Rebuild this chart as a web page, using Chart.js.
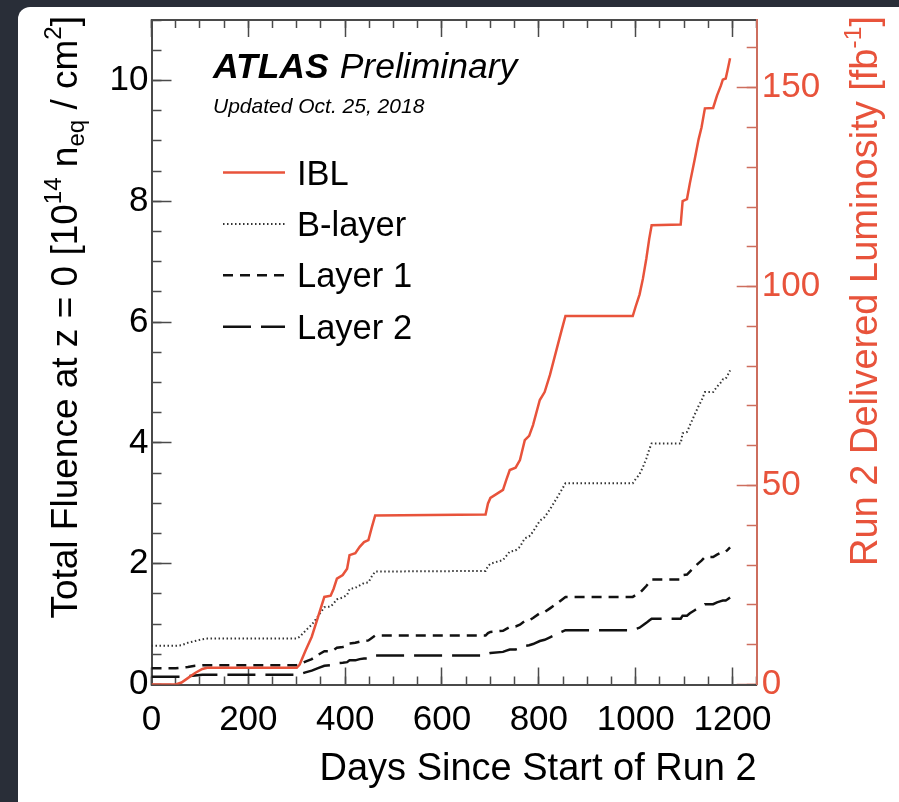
<!DOCTYPE html>
<html>
<head>
<meta charset="utf-8">
<script src="https://cdn.jsdelivr.net/npm/chart.js@4.4.1/dist/chart.umd.min.js"></script>
<style>
    html, body { margin: 0; padding: 0; background: #292e38; }
    #wrap { position: relative; width: 899px; height: 802px; overflow: hidden; }
    #panel { position: absolute; left: 18px; top: 7px; width: 900px; height: 812px; background: #fff; border-radius: 12px; }
    #chart { position: absolute; left: 0; top: 0; }
</style>
</head>
<body>
<div id="wrap">
    <div id="panel"></div>
    <canvas id="chart" width="899" height="802"></canvas>
</div>
<script>
// days since start of Run 2 (shared by all curves)
const days = [0, 50, 62, 75, 90, 105, 115,
    300, 306, 318, 331, 344, 357, 370, 376, 383, 395, 404, 409, 421, 430, 439, 448, 455, 462,
    690, 695, 700, 726, 733, 740, 752, 761, 771, 780, 788, 802, 812, 823, 839, 847, 855,
    994, 1000, 1008, 1015, 1022, 1028, 1033,
    1093, 1097, 1106, 1112, 1122, 1130, 1136, 1143, 1160, 1168, 1176, 1180, 1186, 1190, 1195];

// IBL curve = delivered luminosity, fb^-1 (right axis)
const iblLumi = [0, 0, 0.5, 1.6, 2.9, 3.9, 4.2,
    4.2, 5.0, 8.5, 12.0, 17.0, 22.0, 22.3, 24.0, 26.6, 27.5, 29.1, 32.5, 33.0, 34.6, 35.8, 36.3, 39.5, 42.5,
    42.7, 45.5, 46.9, 48.9, 51.5, 53.9, 54.5, 56.4, 61.4, 62.5, 65.2, 71.5, 73.5, 77.8, 85.3, 89.0, 92.6,
    92.6, 95, 98, 102, 107, 112, 115.4,
    115.6, 121.5, 122, 126, 132, 137, 140, 144.8, 144.9, 148, 150.5, 152, 152.3, 154.5, 157.4];

// fluence, 10^14 neq/cm2 (left axis)
const bLayer = [0.64, 0.64, 0.65, 0.69, 0.72, 0.75, 0.76,
    0.76, 0.79, 0.89, 0.99, 1.13, 1.28, 1.29, 1.34, 1.41, 1.44, 1.48, 1.58, 1.60, 1.64, 1.68, 1.69, 1.79, 1.87,
    1.88, 1.96, 2.00, 2.06, 2.13, 2.20, 2.22, 2.28, 2.42, 2.45, 2.53, 2.71, 2.77, 2.90, 3.11, 3.22, 3.33,
    3.33, 3.40, 3.48, 3.60, 3.74, 3.89, 3.99,
    3.99, 4.16, 4.18, 4.29, 4.47, 4.61, 4.70, 4.84, 4.84, 4.93, 5.00, 5.05, 5.06, 5.12, 5.20];

const layer1 = [0.27, 0.27, 0.28, 0.29, 0.31, 0.32, 0.32,
    0.32, 0.33, 0.38, 0.42, 0.49, 0.55, 0.55, 0.57, 0.61, 0.62, 0.64, 0.68, 0.69, 0.71, 0.72, 0.73, 0.77, 0.81,
    0.81, 0.85, 0.87, 0.89, 0.92, 0.95, 0.96, 0.99, 1.05, 1.06, 1.10, 1.18, 1.20, 1.26, 1.35, 1.40, 1.45,
    1.45, 1.48, 1.51, 1.57, 1.63, 1.69, 1.74,
    1.74, 1.81, 1.82, 1.87, 1.95, 2.01, 2.05, 2.11, 2.11, 2.15, 2.18, 2.20, 2.20, 2.23, 2.27];

const layer2 = [0.13, 0.13, 0.13, 0.14, 0.15, 0.16, 0.16,
    0.16, 0.17, 0.20, 0.23, 0.27, 0.31, 0.32, 0.33, 0.35, 0.36, 0.37, 0.40, 0.40, 0.42, 0.43, 0.43, 0.46, 0.48,
    0.48, 0.51, 0.52, 0.54, 0.56, 0.58, 0.58, 0.60, 0.64, 0.65, 0.67, 0.72, 0.74, 0.78, 0.84, 0.87, 0.90,
    0.90, 0.92, 0.94, 0.98, 1.02, 1.06, 1.09,
    1.09, 1.14, 1.14, 1.18, 1.23, 1.27, 1.29, 1.33, 1.33, 1.36, 1.38, 1.39, 1.39, 1.41, 1.44];

const seriesNames = ['IBL', 'B-layer', 'Layer 1', 'Layer 2'];

const FONT = '"Liberation Sans", Arial, Helvetica, sans-serif';
const RED = '#e8533b';
const RED_AXIS = '#cd6e5e';
const FRAME = '#4a4a4a';

function pts(vals) {
    return days.map((d, i) => ({ x: d, y: vals[i] }));
}

// texte avec exposants / indices
function runWidth(ctx, runs, size) {
    let w = 0;
    runs.forEach(r => {
        ctx.font = (r.s ? size * 0.65 : size) + 'px ' + FONT;
        w += ctx.measureText(r.t).width;
    });
    return w;
}
function drawRuns(ctx, runs, size) {
    let x = 0;
    runs.forEach(r => {
        const s = r.s ? size * 0.65 : size;
        ctx.font = s + 'px ' + FONT;
        const dy = r.s === 'sup' ? -0.42 * size : (r.s === 'sub' ? 0.2 * size : 0);
        ctx.fillText(r.t, x, dy);
        x += ctx.measureText(r.t).width;
    });
}
function drawVerticalTitle(ctx, runs, size, baseX, topY, color) {
    ctx.save();
    ctx.fillStyle = color;
    ctx.textAlign = 'left';
    ctx.textBaseline = 'alphabetic';
    const w = runWidth(ctx, runs, size);
    ctx.translate(baseX, topY + w);
    ctx.rotate(-Math.PI / 2);
    drawRuns(ctx, runs, size);
    ctx.restore();
}

const decorations = {
    id: 'decorations',
    afterDraw(chart) {
        const ctx = chart.ctx;
        ctx.save();
        ctx.fillStyle = '#000';
        ctx.textAlign = 'left';
        ctx.textBaseline = 'alphabetic';

        // ATLAS Preliminary
        ctx.font = 'italic bold 35.5px ' + FONT;
        ctx.fillText('ATLAS', 213, 78);
        const w = ctx.measureText('ATLAS').width;
        ctx.font = 'italic 35.5px ' + FONT;
        ctx.fillText('Preliminary', 213 + w + 11, 78);
        ctx.font = 'italic 21px ' + FONT;
        ctx.fillText('Updated Oct. 25, 2018', 213, 113);

        // legende
        chart.data.datasets.forEach((ds, i) => {
            const y = 172.5 + i * 51.4;
            ctx.save();
            ctx.strokeStyle = ds.borderColor;
            ctx.lineWidth = ds.borderWidth;
            ctx.setLineDash(ds.borderDash || []);
            ctx.beginPath();
            ctx.moveTo(223, y);
            ctx.lineTo(285, y);
            ctx.stroke();
            ctx.restore();
            ctx.font = '34.5px ' + FONT;
            ctx.fillStyle = '#000';
            ctx.fillText(ds.label, 297, y + 12);
        });
        ctx.restore();

        // titres des axes verticaux
        drawVerticalTitle(ctx, [
            { t: 'Total Fluence at z = 0 [10' }, { t: '14', s: 'sup' }, { t: ' n' }, { t: 'eq', s: 'sub' },
            { t: ' / cm' }, { t: '2', s: 'sup' }, { t: ']' }
        ], 37, 77, 16, '#000');
        drawVerticalTitle(ctx, [
            { t: 'Run 2 Delivered Luminosity [fb' }, { t: '-1', s: 'sup' }, { t: ']' }
        ], 38, 877, 16, RED);
    }
};

const tickFont = { family: FONT, size: 35 };
const plainNumber = v => String(v);

new Chart(document.getElementById('chart'), {
    type: 'line',
    data: {
        datasets: [
            { label: seriesNames[0], data: pts(iblLumi), yAxisID: 'y2', borderColor: RED, borderWidth: 2.5 },
            { label: seriesNames[1], data: pts(bLayer), yAxisID: 'y', borderColor: '#333', borderWidth: 2, borderDash: [1.5, 2.5] },
            { label: seriesNames[2], data: pts(layer1), yAxisID: 'y', borderColor: '#111', borderWidth: 2.5, borderDash: [10, 7] },
            { label: seriesNames[3], data: pts(layer2), yAxisID: 'y', borderColor: '#111', borderWidth: 2.5, borderDash: [28, 10] }
        ]
    },
    options: {
        responsive: false,
        animation: false,
        events: [],
        elements: { point: { radius: 0 }, line: { tension: 0, borderCapStyle: 'butt' } },
        layout: { padding: { top: 20, left: 0, right: 0, bottom: 0 } },
        plugins: { legend: { display: false }, tooltip: { enabled: false } },
        scales: {
            x: {
                type: 'linear', position: 'bottom', weight: 1, min: 0, max: 1250,
                ticks: { stepSize: 200, includeBounds: false, autoSkip: false, maxRotation: 0, maxTicksLimit: 100, padding: 32, font: tickFont, color: '#000', callback: plainNumber },
                grid: { drawOnChartArea: false, tickLength: -17, tickColor: FRAME, tickWidth: 1.5 },
                border: { color: FRAME, width: 2 },
                title: { display: true, text: 'Days Since Start of Run 2', align: 'end', color: '#000', font: { family: FONT, size: 38, lineHeight: 1 }, padding: { top: 0, bottom: 13 } },
                afterFit(s) { s.height = 117.5; s.paddingLeft = 0; s.paddingRight = 0; }
            },
            xMinor: {
                type: 'linear', position: 'bottom', weight: 0, min: 0, max: 1250,
                ticks: { stepSize: 50, includeBounds: false, display: false, maxTicksLimit: 100 },
                grid: { drawOnChartArea: false, tickLength: -8, tickColor: FRAME, tickWidth: 1.5 },
                border: { display: false },
                afterFit(s) { s.height = 0; s.paddingLeft = 0; s.paddingRight = 0; }
            },
            xTop: {
                type: 'linear', position: 'top', weight: 1, min: 0, max: 1250,
                ticks: { stepSize: 200, includeBounds: false, display: false, maxTicksLimit: 100 },
                grid: { drawOnChartArea: false, tickLength: -17, tickColor: FRAME, tickWidth: 1.5 },
                border: { color: FRAME, width: 2 },
                afterFit(s) { s.height = 0; s.paddingLeft = 0; s.paddingRight = 0; }
            },
            xTopMinor: {
                type: 'linear', position: 'top', weight: 0, min: 0, max: 1250,
                ticks: { stepSize: 50, includeBounds: false, display: false, maxTicksLimit: 100 },
                grid: { drawOnChartArea: false, tickLength: -8, tickColor: FRAME, tickWidth: 1.5 },
                border: { display: false },
                afterFit(s) { s.height = 0; s.paddingLeft = 0; s.paddingRight = 0; }
            },
            y: {
                type: 'linear', position: 'left', weight: 1, min: 0, max: 11,
                ticks: { stepSize: 2, includeBounds: false, autoSkip: false, maxTicksLimit: 100, padding: 23, font: tickFont, color: '#000', callback: plainNumber },
                grid: { drawOnChartArea: false, tickLength: -20, tickColor: FRAME, tickWidth: 1.5 },
                border: { color: FRAME, width: 2 },
                afterFit(s) { s.width = 151.5; s.paddingTop = 0; s.paddingBottom = 0; }
            },
            yMinor: {
                type: 'linear', position: 'left', weight: 0, min: 0, max: 11,
                ticks: { stepSize: 0.5, includeBounds: false, display: false, maxTicksLimit: 100 },
                grid: { drawOnChartArea: false, tickLength: -10, tickColor: FRAME, tickWidth: 1.5 },
                border: { display: false },
                afterFit(s) { s.width = 0; s.paddingTop = 0; s.paddingBottom = 0; }
            },
            y2: {
                type: 'linear', position: 'right', weight: 1, min: 0, max: 167,
                ticks: { stepSize: 50, includeBounds: false, autoSkip: false, maxTicksLimit: 100, padding: 25, font: tickFont, color: RED, callback: plainNumber },
                grid: { drawOnChartArea: false, tickLength: -20, tickColor: RED_AXIS, tickWidth: 1.5 },
                border: { color: RED_AXIS, width: 2 },
                afterFit(s) { s.width = 142.3; s.paddingTop = 0; s.paddingBottom = 0; }
            },
            y2Minor: {
                type: 'linear', position: 'right', weight: 0, min: 0, max: 167,
                ticks: { stepSize: 10, includeBounds: false, display: false, maxTicksLimit: 100 },
                grid: { drawOnChartArea: false, tickLength: -10, tickColor: RED_AXIS, tickWidth: 1.5 },
                border: { display: false },
                afterFit(s) { s.width = 0; s.paddingTop = 0; s.paddingBottom = 0; }
            }
        }
    },
    plugins: [decorations]
});
</script>
</body>
</html>
